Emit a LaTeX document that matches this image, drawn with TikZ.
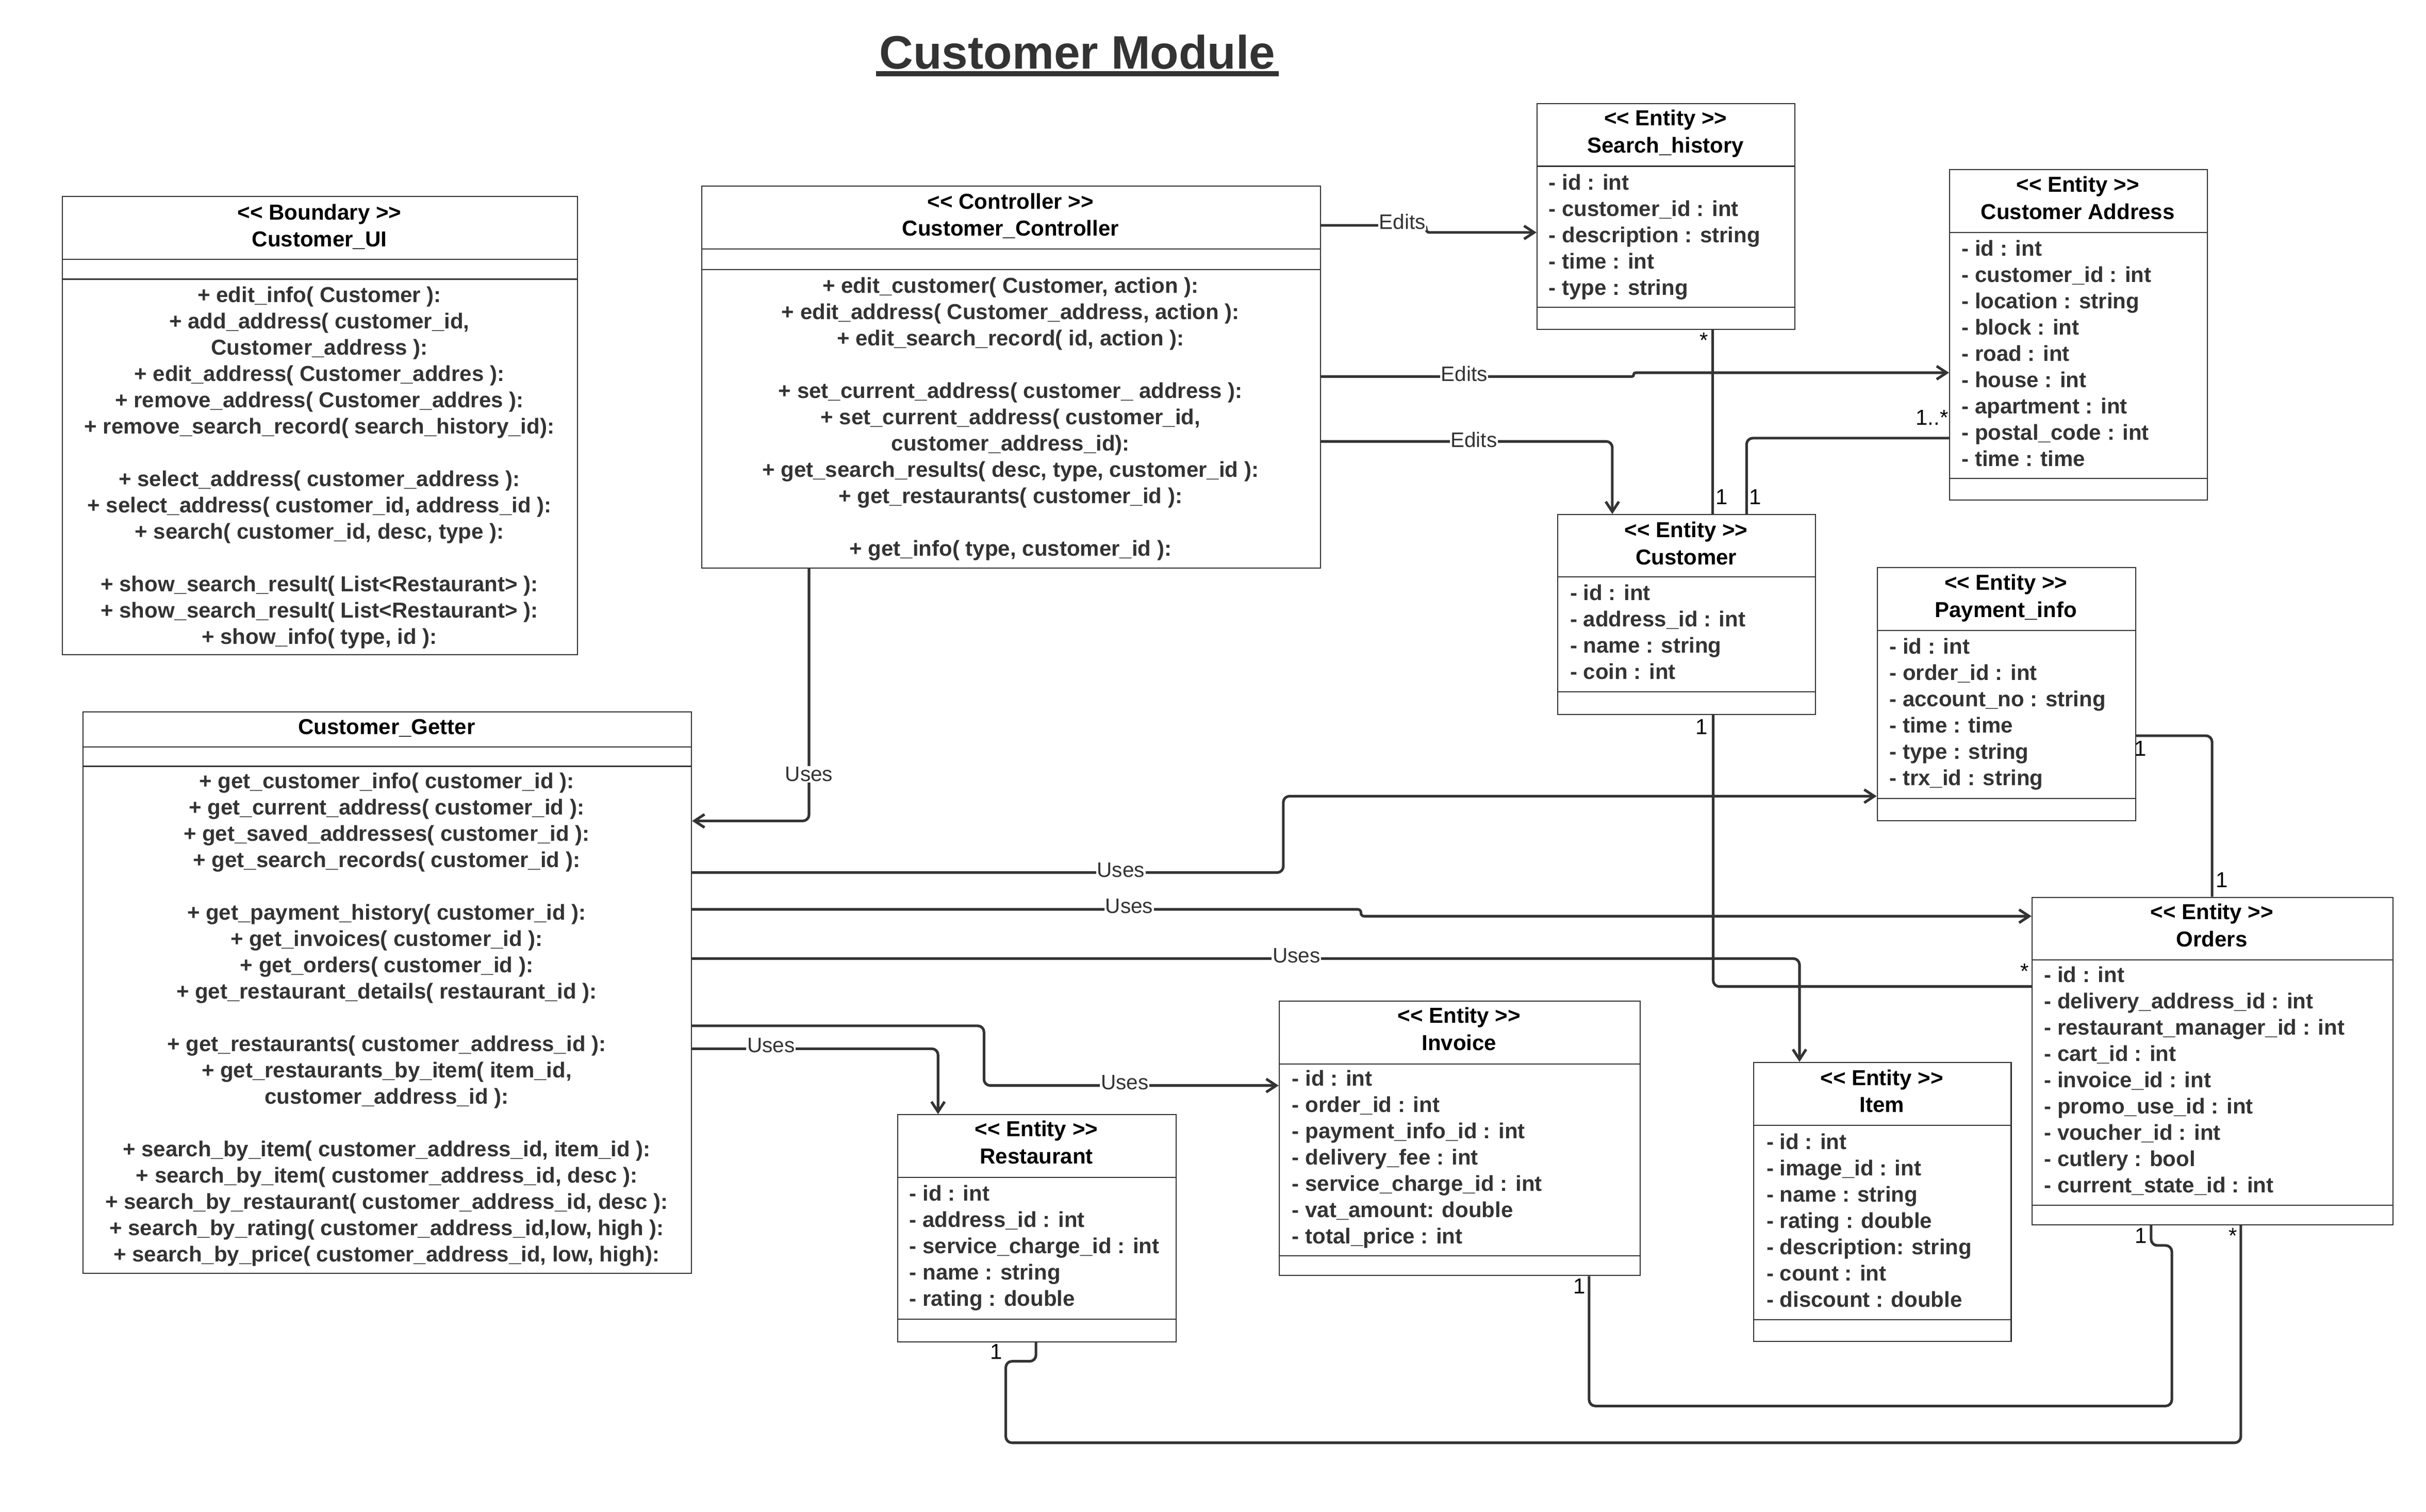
\documentclass[tikz,border=0pt]{standalone}
\usepackage{fontspec}
\setmainfont{Liberation Sans}
\usetikzlibrary{arrows.meta}
\definecolor{ink}{HTML}{333333}
\tikzset{
  umlbox/.style={draw=ink, line width=0.7pt, inner sep=0, anchor=north west},
  sepline/.style={draw=ink, line width=0.7pt},
  hdr/.style={font=\bfseries\fontsize{14}{17}\selectfont, text=black, inner sep=0, anchor=base},
  mth/.style={font=\bfseries\fontsize{14}{17}\selectfont, text=ink, inner sep=0, anchor=base},
  att/.style={font=\bfseries\fontsize{14}{17}\selectfont, text=ink, inner sep=0, anchor=base west},
  conn/.style={draw=ink, line width=1.7pt, rounded corners=4pt},
  arr/.style={-{Straight Barb[length=6.5pt,width=8.5pt]}},
  lbl/.style={fill=white, inner sep=0.6pt, font=\fontsize{13.5}{16}\selectfont, text=ink},
  mult/.style={inner sep=0, font=\fontsize{14}{16}\selectfont, text=black},
}
\newcommand\tb[1]{\begin{tabular}[t]{@{}c@{}}#1\end{tabular}}
\newcommand\tl[1]{\begin{tabular}[t]{@{}l@{}}#1\end{tabular}}
\begin{document}
\begin{tikzpicture}[x=1pt,y=-1pt]
\useasboundingbox (0,0) rectangle (1568.33,977.33);

% ---------- title
\node[font=\bfseries\fontsize{30.3}{34}\selectfont, text=ink, anchor=base, inner sep=0] (title) at (696.5,44.4) {Customer Module};
\draw[ink, line width=3.3pt] ([xshift=-2pt,yshift=-3.4pt]title.base west) -- ([xshift=2pt,yshift=-3.4pt]title.base east);

% ---------- Customer_UI
\node[umlbox, minimum width=333pt, minimum height=296.5pt] (ui) at (40,126.5) {};
\draw[sepline] (ui.west |- 0,167.6) -- (ui.east |- 0,167.6);
\draw[sepline] (ui.west |- 0,180.5) -- (ui.east |- 0,180.5);
\node[hdr] (uih) at (206.5,142) {\tb{<{}< Boundary >{}>\\[0.6pt] Customer\_UI}};
\node[mth] (uim) at (206.5,195.5) {\tb{%
+ edit\_info( Customer ):\\
+ add\_address( customer\_id,\\
Customer\_address ):\\
+ edit\_address( Customer\_addres ):\\
+ remove\_address( Customer\_addres ):\\
+ remove\_search\_record( search\_history\_id):\\
\\
+ select\_address( customer\_address ):\\
+ select\_address( customer\_id, address\_id ):\\
+ search( customer\_id, desc, type ):\\
\\
+ show\_search\_result( List<Restaurant> ):\\
+ show\_search\_result( List<Restaurant> ):\\
+ show\_info( type, id ):}};

% ---------- Customer_Controller
\node[umlbox, minimum width=399.9pt, minimum height=247pt] (ctrl) at (453.3,120) {};
\draw[sepline] (ctrl.west |- 0,160.9) -- (ctrl.east |- 0,160.9);
\draw[sepline] (ctrl.west |- 0,174.4) -- (ctrl.east |- 0,174.4);
\node[hdr] (ctrlh) at (653.3,135) {\tb{<{}< Controller >{}>\\[0.4pt] Customer\_Controller}};
\node[mth] (ctrlm) at (653.3,189.6) {\tb{%
+ edit\_customer( Customer, action ):\\
+ edit\_address( Customer\_address, action ):\\
+ edit\_search\_record( id, action ):\\
\\
+ set\_current\_address( customer\_ address ):\\
+ set\_current\_address( customer\_id,\\
customer\_address\_id):\\
+ get\_search\_results( desc, type, customer\_id ):\\
+ get\_restaurants( customer\_id ):\\
\\
+ get\_info( type, customer\_id ):}};

% ---------- Customer_Getter
\node[umlbox, minimum width=393.4pt, minimum height=363pt] (get) at (53.3,460.1) {};
\draw[sepline] (get.west |- 0,483.1) -- (get.east |- 0,483.1);
\draw[sepline] (get.west |- 0,495.5) -- (get.east |- 0,495.5);
\node[hdr] (geth) at (250,474.8) {Customer\_Getter};
\node[mth] (getm) at (250,509.7) {\tb{%
+ get\_customer\_info( customer\_id ):\\
+ get\_current\_address( customer\_id ):\\
+ get\_saved\_addresses( customer\_id ):\\
+ get\_search\_records( customer\_id ):\\
\\
+ get\_payment\_history( customer\_id ):\\
+ get\_invoices( customer\_id ):\\
+ get\_orders( customer\_id ):\\
+ get\_restaurant\_details( restaurant\_id ):\\
\\
+ get\_restaurants( customer\_address\_id ):\\
+ get\_restaurants\_by\_item( item\_id,\\
customer\_address\_id ):\\
\\
+ search\_by\_item( customer\_address\_id, item\_id ):\\
+ search\_by\_item( customer\_address\_id, desc ):\\
+ search\_by\_restaurant( customer\_address\_id, desc ):\\
+ search\_by\_rating( customer\_address\_id,low, high ):\\
+ search\_by\_price( customer\_address\_id, low, high):}};

% ---------- Search_history
\node[umlbox, minimum width=166.8pt, minimum height=146pt] (sh) at (993.3,66.6) {};
\draw[sepline] (sh.west |- 0,107.5) -- (sh.east |- 0,107.5);
\draw[sepline] (sh.west |- 0,198.7) -- (sh.east |- 0,198.7);
\node[hdr] (shh) at (1076.7,81.3) {\tb{<{}< Entity >{}>\\[0.6pt] Search\_history}};
\node[att] (sha) at (1001.1,122.8) {\tl{%
- id : int\\
- customer\_id : int\\
- description : string\\
- time : int\\
- type : string}};

% ---------- Customer Address
\node[umlbox, minimum width=166.5pt, minimum height=213.5pt] (ca) at (1260,109.4) {};
\draw[sepline] (ca.west |- 0,150.4) -- (ca.east |- 0,150.4);
\draw[sepline] (ca.west |- 0,309.3) -- (ca.east |- 0,309.3);
\node[hdr] (cah) at (1343.2,124.1) {\tb{<{}< Entity >{}>\\[0.6pt] Customer Address}};
\node[att] (caa) at (1268,165.6) {\tl{%
- id : int\\
- customer\_id : int\\
- location : string\\
- block : int\\
- road : int\\
- house : int\\
- apartment : int\\
- postal\_code : int\\
- time : time}};

% ---------- Customer
\node[umlbox, minimum width=166.5pt, minimum height=129.2pt] (cust) at (1006.7,332.4) {};
\draw[sepline] (cust.west |- 0,373.1) -- (cust.east |- 0,373.1);
\draw[sepline] (cust.west |- 0,447.4) -- (cust.east |- 0,447.4);
\node[hdr] (custh) at (1090,347.4) {\tb{<{}< Entity >{}>\\[0.6pt] Customer}};
\node[att] (custa) at (1014.9,388.1) {\tl{%
- id : int\\
- address\_id : int\\
- name : string\\
- coin : int}};

% ---------- Payment_info
\node[umlbox, minimum width=167pt, minimum height=163.7pt] (pay) at (1213.2,366.7) {};
\draw[sepline] (pay.west |- 0,407.6) -- (pay.east |- 0,407.6);
\draw[sepline] (pay.west |- 0,516.3) -- (pay.east |- 0,516.3);
\node[hdr] (payh) at (1296.7,381.4) {\tb{<{}< Entity >{}>\\[0.6pt] Payment\_info}};
\node[att] (paya) at (1221.3,422.7) {\tl{%
- id : int\\
- order\_id : int\\
- account\_no : string\\
- time : time\\
- type : string\\
- trx\_id : string}};

% ---------- Orders
\node[umlbox, minimum width=233.2pt, minimum height=211.6pt] (ord) at (1313.3,579.9) {};
\draw[sepline] (ord.west |- 0,620.8) -- (ord.east |- 0,620.8);
\draw[sepline] (ord.west |- 0,779.3) -- (ord.east |- 0,779.3);
\node[hdr] (ordh) at (1429.9,594.5) {\tb{<{}< Entity >{}>\\[0.6pt] Orders}};
\node[att] (orda) at (1321.3,635.1) {\tl{%
- id : int\\
- delivery\_address\_id : int\\
- restaurant\_manager\_id : int\\
- cart\_id : int\\
- invoice\_id : int\\
- promo\_use\_id : int\\
- voucher\_id : int\\
- cutlery : bool\\
- current\_state\_id : int}};

% ---------- Item
\node[umlbox, minimum width=166.6pt, minimum height=180.5pt] (item) at (1133.2,686.6) {};
\draw[sepline] (item.west |- 0,727.6) -- (item.east |- 0,727.6);
\draw[sepline] (item.west |- 0,853.3) -- (item.east |- 0,853.3);
\node[hdr] (itemh) at (1216.5,701.7) {\tb{<{}< Entity >{}>\\[0.6pt] Item}};
\node[att] (itema) at (1141.8,743) {\tl{%
- id : int\\
- image\_id : int\\
- name : string\\
- rating : double\\
- description: string\\
- count : int\\
- discount : double}};

% ---------- Invoice
\node[umlbox, minimum width=233.4pt, minimum height=177.5pt] (inv) at (826.6,646.9) {};
\draw[sepline] (inv.west |- 0,688) -- (inv.east |- 0,688);
\draw[sepline] (inv.west |- 0,812) -- (inv.east |- 0,812);
\node[hdr] (invh) at (943.3,661.5) {\tb{<{}< Entity >{}>\\[0.6pt] Invoice}};
\node[att] (inva) at (835.1,702.2) {\tl{%
- id : int\\
- order\_id : int\\
- payment\_info\_id : int\\
- delivery\_fee : int\\
- service\_charge\_id : int\\
- vat\_amount: double\\
- total\_price : int}};

% ---------- Restaurant
\node[umlbox, minimum width=179.9pt, minimum height=146.9pt] (rest) at (580,720.4) {};
\draw[sepline] (rest.west |- 0,761.4) -- (rest.east |- 0,761.4);
\draw[sepline] (rest.west |- 0,853.1) -- (rest.east |- 0,853.1);
\node[hdr] (resth) at (670,734.9) {\tb{<{}< Entity >{}>\\[0.6pt] Restaurant}};
\node[att] (resta) at (587.7,776.6) {\tl{%
- id : int\\
- address\_id : int\\
- service\_charge\_id : int\\
- name : string\\
- rating : double}};

% ---------- connectors: Edits
\draw[conn, arr, rounded corners=2pt] (ctrl.east |- 0,145.7) -- (922,145.7) -- (922,150.3) -- (sh.west |- 0,150.3);
\node[lbl] (e1) at (906.5,143.5) {Edits};
\draw[conn, arr, rounded corners=1.2pt] (ctrl.east |- 0,243.5) -- (1056.1,243.5) -- (1056.1,241) -- (ca.west |- 0,241);
\node[lbl] (e2) at (946.5,241.7) {Edits};
\draw[conn, arr] (ctrl.east |- 0,285.4) -- (1042.3,285.4) -- (cust.north -| 1042.3,0);
\node[lbl] (e3) at (952.8,284.3) {Edits};

% ---------- connectors: Uses
\draw[conn, arr] (ctrl.south -| 523,0) -- (523,530.8) -- (get.east |- 0,530.8);
\node[lbl] (u0) at (523,500.6) {Uses};
\draw[conn, arr] (get.east |- 0,564.2) -- (829.6,564.2) -- (829.6,514.8) -- (pay.west |- 0,514.8);
\node[lbl] (u1) at (724.6,562.5) {Uses};
\draw[conn, arr, rounded corners=2pt] (get.east |- 0,588) -- (879.8,588) -- (879.8,592.4) -- (ord.west |- 0,592.4);
\node[lbl] (u2) at (730,586) {Uses};
\draw[conn, arr] (get.east |- 0,619.8) -- (1163.3,619.8) -- (item.north -| 1163.3,0);
\node[lbl] (u3) at (838.1,618) {Uses};
\draw[conn, arr] (get.east |- 0,663.3) -- (636.1,663.3) -- (636.1,701.9) -- (inv.west |- 0,701.9);
\node[lbl] (u4) at (727.1,700) {Uses};
\draw[conn, arr] (get.east |- 0,678.1) -- (606.4,678.1) -- (rest.north -| 606.4,0);
\node[lbl] (u5) at (498.4,676) {Uses};

% ---------- associations
\draw[conn] (sh.south -| 1107,0) -- (cust.north -| 1107,0);
\node[mult] (m1) at (1101.4,220) {*};
\node[mult] (m2) at (1113,321.4) {1};
\draw[conn] (cust.north -| 1129.1,0) -- (1129.1,283.3) -- (ca.west |- 0,283.3);
\node[mult] (m3) at (1134.7,321.4) {1};
\node[mult] (m4) at (1249,270.1) {1..*};
\draw[conn] (cust.south -| 1107.5,0) -- (1107.5,637.9) -- (ord.west |- 0,637.9);
\node[mult] (m5) at (1100,470) {1};
\node[mult] (m6) at (1309,628) {*};
\draw[conn] (pay.east |- 0,475.7) -- (1430,475.7) -- (ord.north -| 1430,0);
\node[mult] (m7) at (1383.8,483.9) {1};
\node[mult] (m8) at (1436.3,569.1) {1};
\draw[conn] (ord.south -| 1390.6,0) -- (1390.6,805.3) -- (1404,805.3) -- (1404,909.1) -- (1027.3,909.1) -- (inv.south -| 1027.3,0);
\node[mult] (m9) at (1384,799) {1};
\node[mult] (m10) at (1020.9,831.8) {1};
\draw[conn] (ord.south -| 1448.6,0) -- (1448.6,932.9) -- (650.2,932.9) -- (650.2,880.2) -- (669.7,880.2) -- (rest.south -| 669.7,0);
\node[mult] (m11) at (1443.5,799) {*};
\node[mult] (m12) at (644.2,874) {1};
\end{tikzpicture}
\end{document}
